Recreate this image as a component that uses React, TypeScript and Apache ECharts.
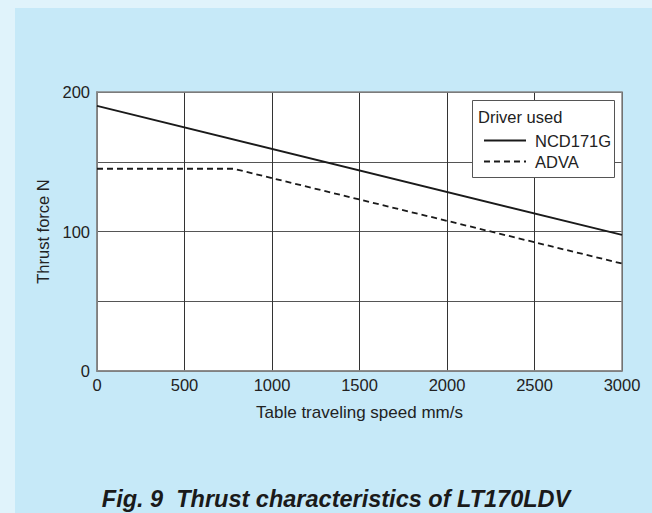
import React, { useEffect, useRef } from "react";
import * as echarts from "echarts";

const xTicks = [0, 500, 1000, 1500, 2000, 2500, 3000];
const yTicks = [0, 50, 100, 150, 200];
const yLabelled = [0, 100, 200];
const ncdSpeed = [0, 3000];
const ncdThrust = [190, 97.5];
const advaSpeed = [0, 780, 3000];
const advaThrust = [145, 145, 77];
const seriesNames = ["NCD171G", "ADVA"];
const legendTitle = "Driver used";
const xName = "Table traveling speed mm/s";
const yName = "Thrust force N";
const figTitle = "Fig. 9  Thrust characteristics of LT170LDV";

const FONT = "'Liberation Sans', Arial, Helvetica, sans-serif";

export default function App() {
  const ref = useRef<HTMLDivElement>(null);
  useEffect(() => {
    if (!ref.current) return;
    const chart = echarts.init(ref.current, undefined, { renderer: "svg" });
    chart.setOption({
      animation: false,
      backgroundColor: "#c6e9f8",
      textStyle: { fontFamily: FONT },
      grid: { left: 97, right: 30, top: 92, bottom: 142, show: true, backgroundColor: "#ffffff", borderWidth: 0 },
      xAxis: {
        type: "value",
        min: xTicks[0],
        max: xTicks[xTicks.length - 1],
        interval: xTicks[1] - xTicks[0],
        name: xName,
        nameLocation: "middle",
        nameGap: 33,
        nameTextStyle: { color: "#222", fontSize: 17, fontFamily: FONT },
        axisLine: { show: true, lineStyle: { color: "#777", width: 1.5 } },
        axisTick: { show: false },
        axisLabel: { color: "#222", fontSize: 16.5, margin: 5, fontFamily: FONT, formatter: (v: number) => String(v) },
        splitLine: { show: true, lineStyle: { color: "#333", width: 1 } },
      },
      yAxis: {
        type: "value",
        min: yTicks[0],
        max: yTicks[yTicks.length - 1],
        interval: yTicks[1] - yTicks[0],
        name: yName,
        nameLocation: "middle",
        nameGap: 46,
        nameTextStyle: { color: "#222", fontSize: 16.5, fontFamily: FONT },
        axisLine: { show: true, lineStyle: { color: "#777", width: 1.5 } },
        axisTick: { show: false },
        axisLabel: {
          color: "#222",
          fontSize: 16.5,
          margin: 7,
          fontFamily: FONT,
          formatter: (v: number) => (yLabelled.includes(v) ? String(v) : ""),
        },
        splitLine: { show: true, lineStyle: { color: "#555", width: 1 } },
      },
      legend: {
        orient: "vertical",
        left: 478,
        top: 127,
        itemWidth: 42,
        itemHeight: 14,
        itemGap: 4,
        data: seriesNames,
        itemStyle: { opacity: 0 },
        textStyle: { color: "#222", fontSize: 16.5, fontFamily: FONT, padding: [0, 0, 0, 4] },
        z: 10,
      },
      graphic: [
        { type: "rect", left: 0, top: 0, shape: { x: 0, y: 0, width: 652, height: 8 }, style: { fill: "#e0f3fb" }, z: 1 },
        { type: "rect", left: 0, top: 0, shape: { x: 0, y: 0, width: 15, height: 513 }, style: { fill: "#e0f3fb" }, z: 1 },
        { type: "rect", shape: { x: 97, y: 92, width: 525, height: 279 }, style: { fill: "none", stroke: "#888", lineWidth: 1.5 }, z: 3, silent: true },
        { type: "rect", shape: { x: 472.5, y: 100.5, width: 142, height: 77 }, style: { fill: "#ffffff", stroke: "#555", lineWidth: 1 }, z: 5 },
        { type: "text", x: 478, y: 117, style: { text: legendTitle, fill: "#222", font: `16.5px ${FONT}`, textVerticalAlign: "middle" }, z: 6 },
        { type: "text", x: 336, y: 499, style: { text: figTitle, fill: "#1a1a1a", font: `italic bold 23.5px ${FONT}`, textAlign: "center", textVerticalAlign: "middle" }, z: 6 },
      ],
      series: [
        {
          name: seriesNames[0],
          type: "line",
          symbol: "none",
          data: ncdSpeed.map((s, i) => [s, ncdThrust[i]]),
          lineStyle: { color: "#1a1a1a", width: 1.8, type: "solid" },
          itemStyle: { color: "#1a1a1a" },
          z: 4,
        },
        {
          name: seriesNames[1],
          type: "line",
          symbol: "none",
          data: advaSpeed.map((s, i) => [s, advaThrust[i]]),
          lineStyle: { color: "#1a1a1a", width: 1.8, type: [6, 4] },
          itemStyle: { color: "#1a1a1a" },
          z: 4,
        },
      ],
    });
    return () => chart.dispose();
  }, []);
  return <div ref={ref} style={{ position: "absolute", left: 0, top: 0, width: 652, height: 513 }} />;
}
